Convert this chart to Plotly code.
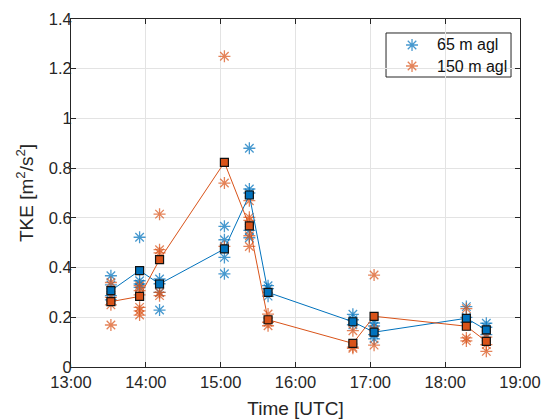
import plotly.graph_objects as go

DAY = "2020-01-01 "

# cluster times (UTC)
times = ["13:32", "13:55", "14:11", "15:03", "15:23", "15:38", "16:46", "17:03", "18:17", "18:33"]

# individual TKE samples, 65 m agl
tke65 = [
    [0.367, 0.33, 0.287, 0.27],
    [0.522, 0.347, 0.334, 0.32],
    [0.354, 0.335, 0.30, 0.229],
    [0.566, 0.512, 0.441, 0.375],
    [0.88, 0.716, 0.70, 0.55, 0.52],
    [0.327, 0.315, 0.285],
    [0.212, 0.19, 0.17],
    [0.177, 0.165, 0.13, 0.113],
    [0.243, 0.2, 0.18],
    [0.176, 0.16, 0.13],
]
# individual TKE samples, 150 m agl
tke150 = [
    [0.34, 0.28, 0.25, 0.169],
    [0.327, 0.307, 0.29, 0.24, 0.226, 0.209],
    [0.615, 0.472, 0.459, 0.30, 0.287],
    [1.25, 0.74, 0.485],
    [0.669, 0.602, 0.59, 0.528, 0.485],
    [0.213, 0.18, 0.166],
    [0.146, 0.08, 0.075],
    [0.37, 0.15, 0.088],
    [0.235, 0.117, 0.105],
    [0.12, 0.09, 0.063],
]
# cluster means
mean65 = [0.307, 0.388, 0.334, 0.475, 0.692, 0.30, 0.182, 0.14, 0.196, 0.149]
mean150 = [0.263, 0.284, 0.432, 0.823, 0.568, 0.19, 0.095, 0.204, 0.164, 0.103]

series_names = ["65 m agl", "150 m agl"]
BLUE = "#0072BD"
RED = "#D95319"
BLUE_L = "rgba(0,114,189,0.72)"
RED_L = "rgba(217,83,25,0.72)"
FONT = "Liberation Sans, Arial, sans-serif"
INK = "#262626"

fig = go.Figure()

for name, samples, light in [
    (series_names[0], tke65, BLUE_L),
    (series_names[1], tke150, RED_L),
]:
    xs, ys = [], []
    for t, vals in zip(times, samples):
        for v in vals:
            xs.append(DAY + t)
            ys.append(v)
    fig.add_trace(go.Scatter(
        x=xs, y=ys, mode="markers", name=name, showlegend=False,
        marker=dict(symbol="asterisk-open", size=10, color=light,
                    line=dict(color=light, width=1.3)),
    ))

for means, col in [(mean65, BLUE), (mean150, RED)]:
    fig.add_trace(go.Scatter(
        x=[DAY + t for t in times], y=means, mode="lines+markers",
        showlegend=False,
        line=dict(color=col, width=1),
        marker=dict(symbol="square", size=8, color=col,
                    line=dict(color="#111111", width=1.2)),
    ))

# ---- legend box (drawn manually to match the compact MATLAB legend) ----
leg_box = dict(x0=0.7016, x1=0.98, y0=0.8333, y1=0.9598)
leg_marker_x = 0.7595
leg_text_x = 0.8107
leg_rows_y = [0.9253, 0.8649]
leg_colors = [BLUE_L, RED_L]

fig.add_shape(type="rect", xref="paper", yref="paper", layer="between",
              fillcolor="white", line=dict(color=INK, width=1), **leg_box)
fig.add_trace(go.Scatter(
    x=[leg_marker_x] * 2, y=leg_rows_y, xaxis="x2", yaxis="y2",
    mode="markers", showlegend=False, hoverinfo="skip",
    marker=dict(symbol="asterisk-open", size=10, color=leg_colors,
                line=dict(color=leg_colors, width=1.3)),
))
for name, yy in zip(series_names, leg_rows_y):
    fig.add_annotation(x=leg_text_x, y=yy, xref="paper", yref="paper",
                       text=name, showarrow=False, xanchor="left", yanchor="middle",
                       font=dict(family=FONT, size=16, color="#111111"))

axis_common = dict(
    showline=True, linecolor=INK, linewidth=1, mirror="ticks",
    ticks="inside", ticklen=5, tickcolor=INK,
    showgrid=True, gridcolor="#e3e3e3", gridwidth=1, zeroline=False,
    automargin=False,
    tickfont=dict(family=FONT, size=16.5, color=INK),
)

fig.update_layout(
    width=542, height=420,
    margin=dict(l=71, r=22, t=19, b=53),
    paper_bgcolor="white", plot_bgcolor="white",
    font=dict(family=FONT, color=INK),
    showlegend=False,
    xaxis=dict(
        **axis_common,
        range=[DAY + "13:00", DAY + "19:00"],
        tickformat="%H:%M", dtick=3600000, tick0=DAY + "13:00",
        title=dict(text="Time [UTC]", font=dict(size=19, color=INK), standoff=11),
    ),
    yaxis=dict(
        **axis_common,
        range=[0, 1.4], dtick=0.2,
        ticklabelstandoff=-5,
        title=dict(text="TKE [m<sup>2</sup>/s<sup>2</sup>]", font=dict(size=19, color=INK), standoff=10),
    ),
    xaxis2=dict(overlaying="x", range=[0, 1], visible=False, showgrid=False, anchor="y2"),
    yaxis2=dict(overlaying="y", range=[0, 1], visible=False, showgrid=False, anchor="x2"),
)

fig.write_html("out.html", config={"displayModeBar": False},
               post_script="document.body.style.margin='0';")
